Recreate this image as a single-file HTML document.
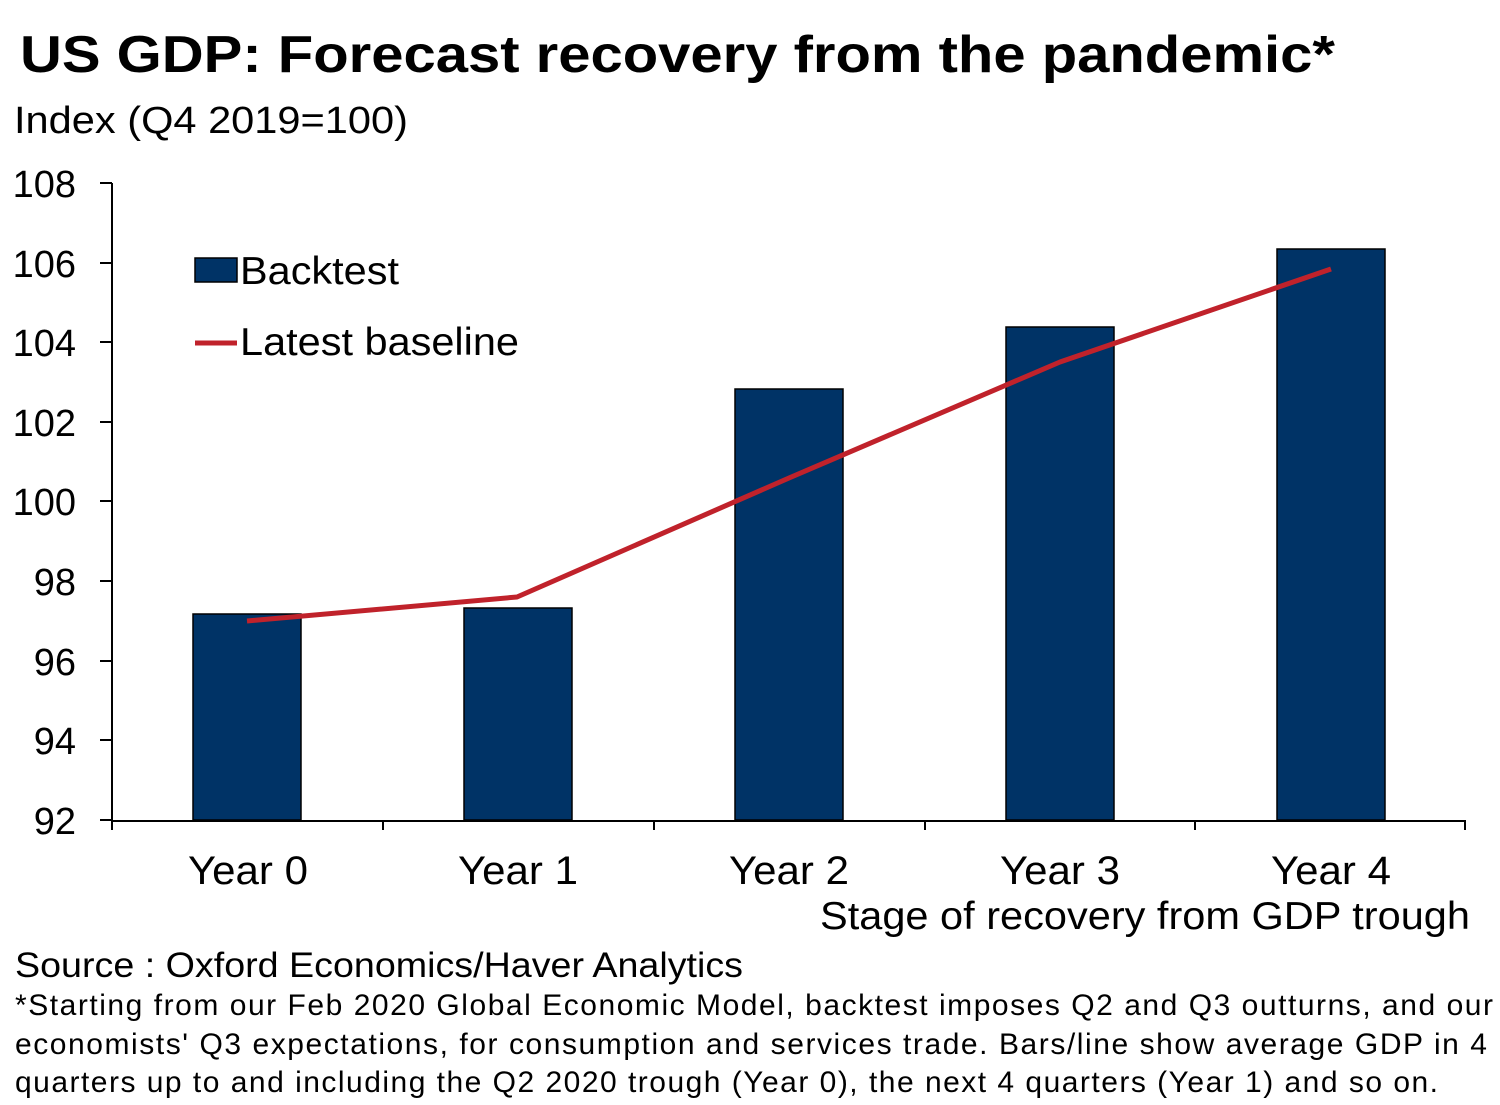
<!DOCTYPE html>
<html><head><meta charset="utf-8"><style>
body{margin:0;background:#fff;}
svg{display:block;font-family:"Liberation Sans",Arial,sans-serif;}
</style></head><body>
<svg width="1500" height="1105" viewBox="0 0 1500 1105" xmlns="http://www.w3.org/2000/svg">
<text x="20" y="72" font-size="52" font-weight="bold" fill="#000" textLength="1315" lengthAdjust="spacingAndGlyphs">US GDP: Forecast recovery from the pandemic*</text>
<text x="14" y="133" font-size="38" fill="#000" textLength="394" lengthAdjust="spacingAndGlyphs">Index (Q4 2019=100)</text>
<g font-size="38" text-anchor="end" fill="#000">
<text x="76" y="197">108</text><text x="76" y="277">106</text><text x="76" y="356">104</text>
<text x="76" y="436">102</text><text x="76" y="515">100</text><text x="76" y="595">98</text>
<text x="76" y="675">96</text><text x="76" y="754">94</text><text x="76" y="834">92</text>
</g>
<g stroke="#000" stroke-width="2">
<line x1="112" y1="183" x2="112" y2="821"/>
<line x1="100" y1="183" x2="112" y2="183"/><line x1="100" y1="263" x2="112" y2="263"/>
<line x1="100" y1="342" x2="112" y2="342"/><line x1="100" y1="422" x2="112" y2="422"/>
<line x1="100" y1="501" x2="112" y2="501"/><line x1="100" y1="581" x2="112" y2="581"/>
<line x1="100" y1="661" x2="112" y2="661"/><line x1="100" y1="740" x2="112" y2="740"/>
<line x1="100" y1="820" x2="112" y2="820"/>
</g>
<g fill="#003366" stroke="#000" stroke-width="1.5">
<rect x="193" y="614" width="108" height="206"/>
<rect x="464" y="608" width="108" height="212"/>
<rect x="735" y="389" width="108" height="431"/>
<rect x="1006" y="327" width="108" height="493"/>
<rect x="1277" y="249" width="108" height="571"/>
</g>
<g stroke="#000" stroke-width="2">
<line x1="112" y1="821" x2="1466" y2="821"/>
<line x1="112" y1="821" x2="112" y2="830"/><line x1="383" y1="821" x2="383" y2="830"/>
<line x1="654" y1="821" x2="654" y2="830"/><line x1="925" y1="821" x2="925" y2="830"/>
<line x1="1195" y1="821" x2="1195" y2="830"/><line x1="1465" y1="821" x2="1465" y2="830"/>
</g>
<polyline points="247,621 517,597 789,478 1060,362 1331,269" fill="none" stroke="#c0222b" stroke-width="5" stroke-linejoin="round"/>
<rect x="195" y="258" width="42" height="24" fill="#003366" stroke="#000" stroke-width="1.5"/>
<text x="240" y="284" font-size="39" fill="#000" textLength="159" lengthAdjust="spacingAndGlyphs">Backtest</text>
<line x1="195" y1="343" x2="237" y2="343" stroke="#c0222b" stroke-width="5"/>
<text x="240" y="355" font-size="39" fill="#000" textLength="279" lengthAdjust="spacingAndGlyphs">Latest baseline</text>
<g font-size="40" text-anchor="middle" fill="#000">
<text x="248" y="884" textLength="120" lengthAdjust="spacingAndGlyphs">Year 0</text><text x="518" y="884" textLength="120" lengthAdjust="spacingAndGlyphs">Year 1</text>
<text x="789" y="884" textLength="120" lengthAdjust="spacingAndGlyphs">Year 2</text><text x="1060" y="884" textLength="120" lengthAdjust="spacingAndGlyphs">Year 3</text>
<text x="1331" y="884" textLength="120" lengthAdjust="spacingAndGlyphs">Year 4</text>
</g>
<text x="820" y="929" font-size="39" fill="#000" textLength="650" lengthAdjust="spacingAndGlyphs">Stage of recovery from GDP trough</text>
<text x="15" y="977" font-size="35" fill="#000" textLength="728" lengthAdjust="spacingAndGlyphs">Source : Oxford Economics/Haver Analytics</text>
<g font-size="30" fill="#000">
<text x="15" y="1015" textLength="1478" lengthAdjust="spacing">*Starting from our Feb 2020 Global Economic Model, backtest imposes Q2 and Q3 outturns, and our</text>
<text x="15" y="1054" textLength="1472" lengthAdjust="spacing">economists' Q3 expectations, for consumption and services trade. Bars/line show average GDP in 4</text>
<text x="15" y="1092" textLength="1423" lengthAdjust="spacing">quarters up to and including the Q2 2020 trough (Year 0), the next 4 quarters (Year 1) and so on.</text>
</g>
</svg>
</body></html>
